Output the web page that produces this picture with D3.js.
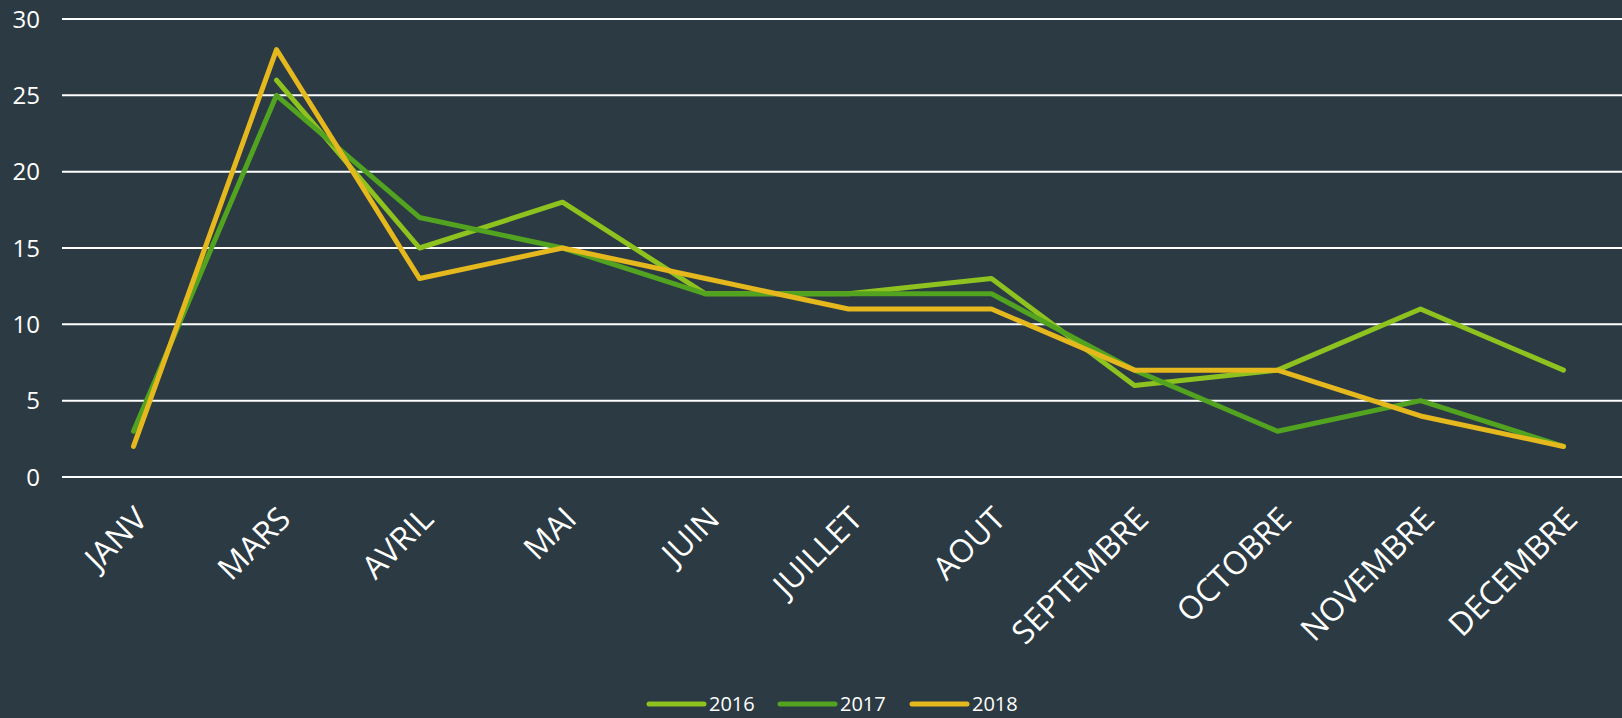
<html>
<head>
  <script src="https://d3js.org/d3.v7.min.js"></script>
  <style>
    body { margin: 0; background: #2c3b43; }
    text { font-family: "Open Sans", sans-serif; fill: #ffffff; }
  </style>
</head>
<body>
  <svg width="1622" height="718"></svg>
  <script>
    var months = ["JANV", "MARS", "AVRIL", "MAI", "JUIN", "JUILLET", "AOUT", "SEPTEMBRE", "OCTOBRE", "NOVEMBRE", "DECEMBRE"];
    var v2016 = [null, 26, 15, 18, 12, 12, 13, 6, 7, 11, 7];
    var v2017 = [3, 25, 17, 15, 12, 12, 12, 7, 3, 5, 2];
    var v2018 = [2, 28, 13, 15, 13, 11, 11, 7, 7, 4, 2];
    var yTicks = [0, 5, 10, 15, 20, 25, 30];

    var series = [
      { name: "2016", values: v2016, color: "#8dc21f" },
      { name: "2017", values: v2017, color: "#52a31f" },
      { name: "2018", values: v2018, color: "#e5b81e" }
    ];

    var svg = d3.select("svg");
    svg.append("rect").attr("width", 1622).attr("height", 718).attr("fill", "#2c3b43");

    var x = d3.scaleBand().domain(months).range([62, 1635]);
    var y = d3.scaleLinear().domain([0, 30]).range([477, 19]);

    // gridlines
    svg.append("g")
      .selectAll("line")
      .data(yTicks)
      .enter()
      .append("line")
      .attr("x1", 62)
      .attr("x2", 1622)
      .attr("y1", function(d) { return y(d); })
      .attr("y2", function(d) { return y(d); })
      .attr("stroke", "#ffffff")
      .attr("stroke-width", 2);

    // y labels
    svg.append("g")
      .selectAll("text")
      .data(yTicks)
      .enter()
      .append("text")
      .attr("x", 40)
      .attr("y", function(d) { return y(d); })
      .attr("dy", "0.36em")
      .attr("text-anchor", "end")
      .attr("font-size", "24px")
      .text(function(d) { return d; });

    // x labels
    svg.append("g")
      .selectAll("text")
      .data(months)
      .enter()
      .append("text")
      .attr("text-anchor", "end")
      .attr("font-size", "32px")
      .attr("transform", function(d) {
        return "translate(" + (x(d) + x.bandwidth() / 2) + ",505) rotate(-45)";
      })
      .attr("dy", "0.7em")
      .text(function(d) { return d; });

    var line = d3.line()
      .defined(function(d) { return d != null; })
      .x(function(d, i) { return x(months[i]) + x.bandwidth() / 2; })
      .y(function(d) { return y(d); });

    svg.append("g")
      .selectAll("path")
      .data(series)
      .enter()
      .append("path")
      .attr("d", function(s) { return line(s.values); })
      .attr("fill", "none")
      .attr("stroke", function(s) { return s.color; })
      .attr("stroke-width", 5)
      .attr("stroke-linejoin", "round")
      .attr("stroke-linecap", "round");

    // legend
    var legendX = [649, 780, 912];
    var lg = svg.append("g")
      .selectAll("g")
      .data(series)
      .enter()
      .append("g")
      .attr("transform", function(d, i) { return "translate(" + legendX[i] + ",704)"; });
    lg.append("line")
      .attr("x1", 0).attr("x2", 55)
      .attr("y1", 0).attr("y2", 0)
      .attr("stroke", function(d) { return d.color; })
      .attr("stroke-width", 5)
      .attr("stroke-linecap", "round");
    lg.append("text")
      .attr("x", 60)
      .attr("y", 7)
      .attr("font-size", "20px")
      .text(function(d) { return d.name; });
  </script>
</body>
</html>
